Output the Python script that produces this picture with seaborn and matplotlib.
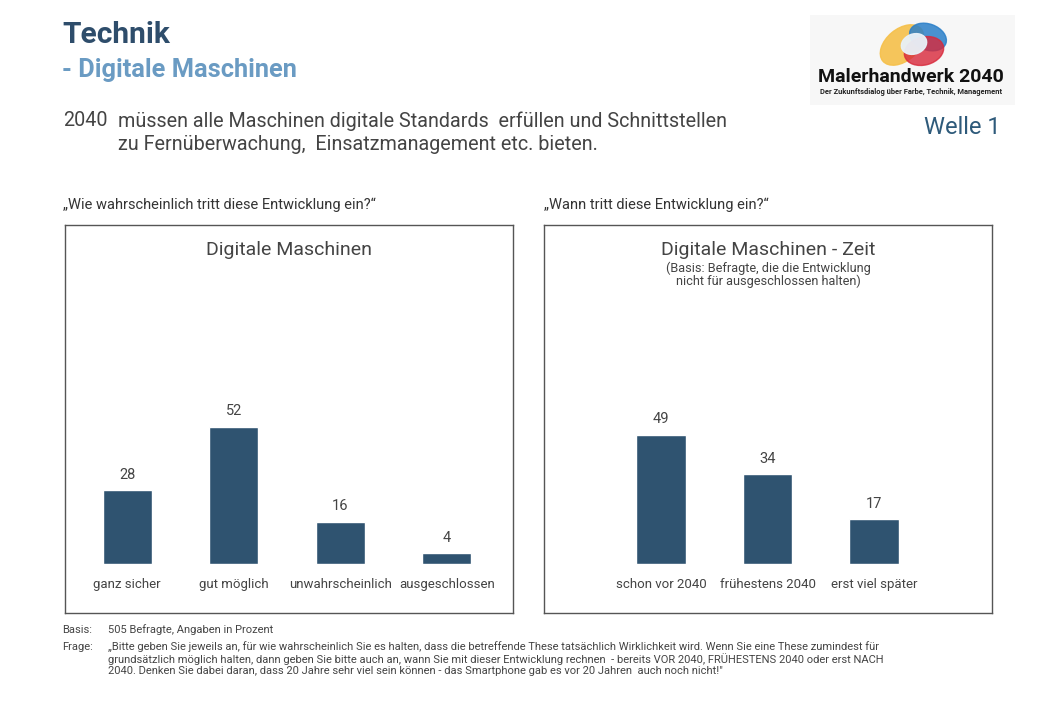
import matplotlib
matplotlib.use("Agg")
import matplotlib.pyplot as plt
from matplotlib.patches import Ellipse, Rectangle
import pandas as pd
import seaborn as sns

# data
cats_left = ["ganz sicher", "gut möglich", "unwahrscheinlich", "ausgeschlossen"]
vals_left = [28, 52, 16, 4]
cats_right = ["schon vor 2040", "frühestens 2040", "erst viel später"]
vals_right = [49, 34, 17]

BAR = "#2f5370"
DARK = "#2e4d6b"
LIGHT = "#6a9bc3"
TXT = "#444444"

sns.set_theme(style="white")
plt.rcParams["font.family"] = ["Roboto", "DejaVu Sans"]

W, H = 1040, 720
fig = plt.figure(figsize=(10.4, 7.2), dpi=100)
fig.patch.set_facecolor("white")


def box(x0, y0, x1, y1):
    # pixel coords (top-left origin) -> figure fraction
    return [x0 / W, 1 - y1 / H, (x1 - x0) / W, (y1 - y0) / H]


def ftext(x, y, s, **kw):
    fig.text(x / W, 1 - y / H, s, **kw)


# headers
ftext(62, 35, "Technik", fontsize=21.5, fontweight="bold", color=DARK, va="center")
ftext(62, 70, "- Digitale Maschinen", fontsize=18.3, fontweight="bold", color=LIGHT, va="center")
ftext(63, 121, "2040", fontsize=14.2, color=TXT, va="center")
ftext(118, 121, "müssen alle Maschinen digitale Standards  erfüllen und Schnittstellen",
      fontsize=14.2, color=TXT, va="center")
ftext(118, 144, "zu Fernüberwachung,  Einsatzmanagement etc. bieten.",
      fontsize=14.2, color=TXT, va="center")
ftext(1001, 127, "Welle 1", fontsize=17, color="#2e5a7a", va="center", ha="right")

ftext(63, 205, "\u201eWie wahrscheinlich tritt diese Entwicklung ein?\u201c",
      fontsize=10.5, color="#333333", va="center")
ftext(544, 205, "\u201eWann tritt diese Entwicklung ein?\u201c",
      fontsize=10.5, color="#333333", va="center")

# logo
lax = fig.add_axes(box(810, 15, 1015, 105))
lax.set_xlim(0, 205)
lax.set_ylim(90, 0)
lax.axis("off")
lax.add_patch(Rectangle((0, 0), 205, 90, color="#f7f7f7", zorder=0))
lax.add_patch(Ellipse((92, 30), 50, 32, angle=-40, color="#f5c04a", alpha=0.9))
lax.add_patch(Ellipse((118, 22), 38, 26, angle=20, color="#2a7fc9", alpha=0.85))
lax.add_patch(Ellipse((114, 36), 40, 28, angle=-15, color="#d8283a", alpha=0.8))
lax.add_patch(Ellipse((104, 29), 26, 20, angle=-20, color="#e8f1f8", alpha=0.95))
lax.text(101, 62, "Malerhandwerk 2040", fontsize=14, fontweight="bold",
         color="#111111", ha="center", va="center")
lax.text(101, 77, "Der Zukunftsdialog über Farbe, Technik, Management",
         fontsize=5.4, fontweight="bold", color="#222222", ha="center", va="center")

# panel frames
for x0, x1, title in [(65, 513, "Digitale Maschinen"), (544, 992, "Digitale Maschinen - Zeit")]:
    fax = fig.add_axes(box(x0, 225, x1, 613))
    fax.set_xticks([])
    fax.set_yticks([])
    fax.set_facecolor("white")
    for sp in fax.spines.values():
        sp.set_color("#555555")
        sp.set_linewidth(1)
    fig.text((x0 + x1) / 2 / W, 1 - 250 / H, title, fontsize=14, color=TXT,
             ha="center", va="center")

ftext(768, 268, "(Basis: Befragte, die die Entwicklung", fontsize=9.2, color=TXT, ha="center", va="center")
ftext(768, 281, "nicht für ausgeschlossen halten)", fontsize=9.2, color=TXT, ha="center", va="center")


def bars(rect, cats, vals, width):
    ax = fig.add_axes(rect)
    df = pd.DataFrame({"cat": cats, "val": vals})
    sns.barplot(data=df, x="cat", y="val", color=BAR, saturation=1, width=width, ax=ax)
    ax.set_ylim(0, 100)
    ax.set_xlim(-0.5, len(cats) - 0.5)
    ax.set_xlabel("")
    ax.set_ylabel("")
    ax.set_yticks([])
    ax.tick_params(axis="x", length=0, pad=10, labelsize=9.5, labelcolor=TXT)
    ax.patch.set_alpha(0)
    for sp in ax.spines.values():
        sp.set_visible(False)
    ax.bar_label(ax.containers[0], fontsize=10.5, color=TXT, padding=6)
    return ax


bars(box(74, 300, 500, 564), cats_left, vals_left, 0.46)
bars(box(608, 300, 927, 564), cats_right, vals_right, 0.47)

# footnotes
ftext(62, 630, "Basis:", fontsize=8, color=TXT, va="center")
ftext(108, 630, "505 Befragte, Angaben in Prozent", fontsize=8, color=TXT, va="center")
ftext(62, 647, "Frage:", fontsize=8, color=TXT, va="center")
notes = [
    "\u201eBitte geben Sie jeweils an, für wie wahrscheinlich Sie es halten, dass die betreffende These tatsächlich Wirklichkeit wird. Wenn Sie eine These zumindest für",
    "grundsätzlich möglich halten, dann geben Sie bitte auch an, wann Sie mit dieser Entwicklung rechnen  - bereits VOR 2040, FRÜHESTENS 2040 oder erst NACH",
    "2040. Denken Sie dabei daran, dass 20 Jahre sehr viel sein können - das Smartphone gab es vor 20 Jahren  auch noch nicht!\"",
]
for i, line in enumerate(notes):
    ftext(108, 647 + 12 * i, line, fontsize=8, color=TXT, va="center")

fig.savefig("out.png", dpi=100, facecolor="white")
